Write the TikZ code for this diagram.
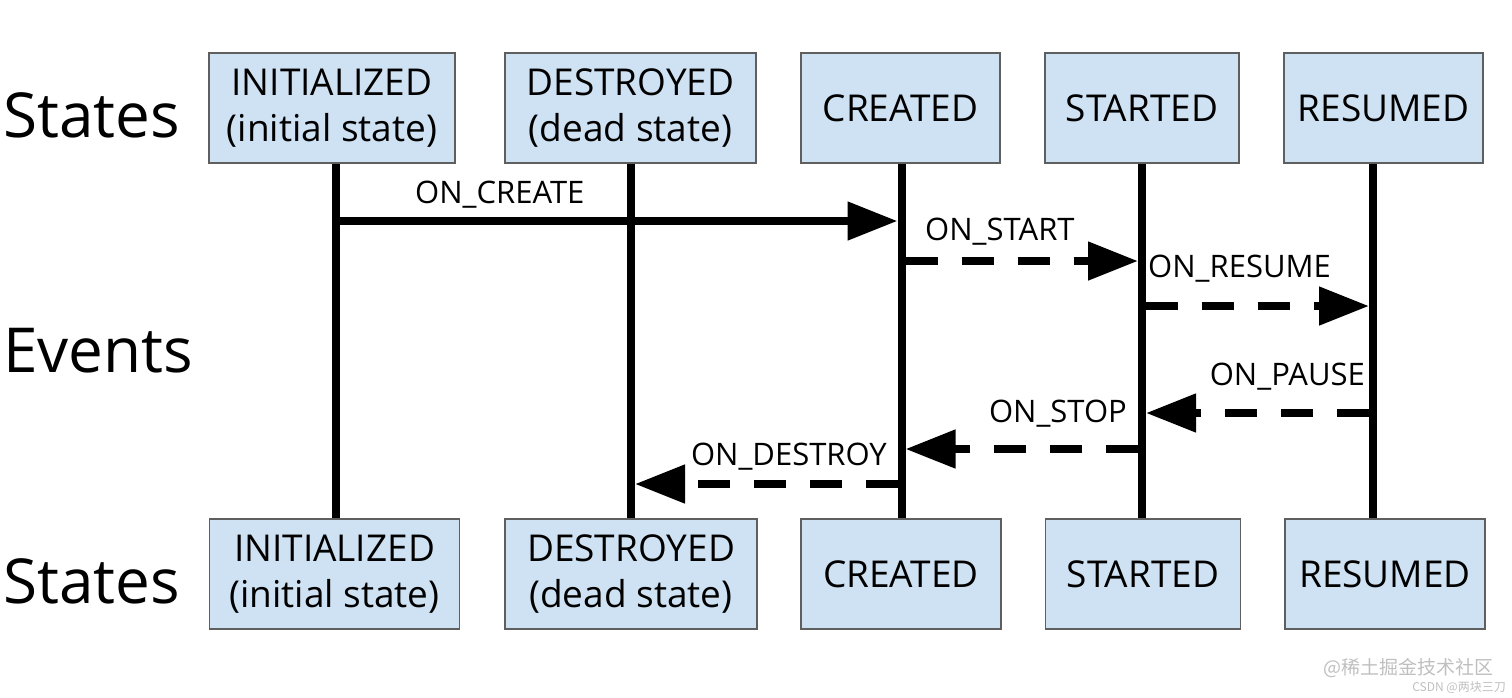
\documentclass[tikz,border=0pt]{standalone}
\usepackage{fontspec}
\setmainfont{Open Sans}
\newfontfamily\cjk{Noto Sans CJK SC}
\usetikzlibrary{arrows.meta}
\definecolor{boxblue}{HTML}{CFE2F3}
\definecolor{boxline}{HTML}{5F5F5F}

\begin{document}
\begin{tikzpicture}[x=1pt, y=-1pt,
  state/.style={draw=boxline, line width=1.5pt, fill=boxblue, inner sep=0pt, minimum height=110pt, align=center, font=\fontsize{37}{46}\selectfont},
  life/.style={line width=8pt},
  event/.style={line width=8pt, -{Triangle[length=50pt,width=37pt]}, shorten >=4pt, shorten <=4pt},
  later/.style={event, dash pattern=on 32pt off 24pt},
  lbl/.style={font=\fontsize{31}{31}\selectfont, inner sep=0pt},
  side/.style={font=\fontsize{62}{62}\selectfont, anchor=west, inner sep=0pt},
  wmark/.style={text=gray!50, inner sep=0pt, anchor=base east}]
\useasboundingbox (0,0) rectangle (1512,697);

% states above
\node[state, minimum width=246pt] (iniT) at (332,108) {INITIALIZED\\(initial state)};
\node[state, minimum width=251pt] (desT) at (630.5,108) {DESTROYED\\(dead state)};
\node[state, minimum width=199pt] (creT) at (900.5,108) {CREATED};
\node[state, minimum width=194pt] (staT) at (1142,108) {STARTED};
\node[state, minimum width=199pt] (resT) at (1383.5,108) {RESUMED};

% states below
\node[state, minimum width=250pt] (iniB) at (334.5,574) {INITIALIZED\\(initial state)};
\node[state, minimum width=252pt] (desB) at (631,574) {DESTROYED\\(dead state)};
\node[state, minimum width=200pt] (creB) at (901,574) {CREATED};
\node[state, minimum width=195pt] (staB) at (1143,574) {STARTED};
\node[state, minimum width=200pt] (resB) at (1385,574) {RESUMED};

\node[side] (st1) at (3,115) {States};
\node[side] (ev) at (3,351) {Events};
\node[side] (st2) at (3,581) {States};

% lifelines
\coordinate (lI) at ([xshift=4pt]iniT.south);
\coordinate (lD) at ([xshift=0.5pt]desT.south);
\coordinate (lC) at ([xshift=1pt]creT.south);
\coordinate (lS) at (staT.south);
\coordinate (lR) at ([xshift=-10.5pt]resT.south);

\draw[life] (lI) -- (lI |- iniB.north);
\draw[life] (lD) -- (lD |- desB.north);
\draw[life] (lC) -- (lC |- creB.north);
\draw[life] (lS) -- (lS |- staB.north);
\draw[life] (lR) -- (lR |- resB.north);

% events
\draw[event] (lI |- 0,221) -- (lC |- 0,221);
\draw[later] (lC |- 0,261) -- (lS |- 0,261);
\draw[later] (lS |- 0,306) -- (lR |- 0,306);
\draw[later] (lR |- 0,413) -- (lS |- 0,413);
\draw[later] (lS |- 0,449) -- (lC |- 0,449);
\draw[later] (lC |- 0,484) -- (lD |- 0,484);

\node[lbl, anchor=base west] (eCreate) at (415,203) {ON\_CREATE};
\node[lbl, anchor=base west] (eStart) at (925,240) {ON\_START};
\node[lbl, anchor=base west] (eResume) at (1148,277) {ON\_RESUME};
\node[lbl, anchor=base east] (ePause) at (1365,385) {ON\_PAUSE};
\node[lbl, anchor=base east] (eStop) at (1127,422) {ON\_STOP};
\node[lbl, anchor=base east] (eDestroy) at (887,465) {ON\_DESTROY};

\node[wmark, font=\cjk\fontsize{19}{19}\selectfont] (wm1) at (1494,674) {@稀土掘金技术社区};
\node[wmark, font=\cjk\fontsize{12}{12}\selectfont] (wm2) at (1506,691) {CSDN @两块三刀};
\end{tikzpicture}
\end{document}
